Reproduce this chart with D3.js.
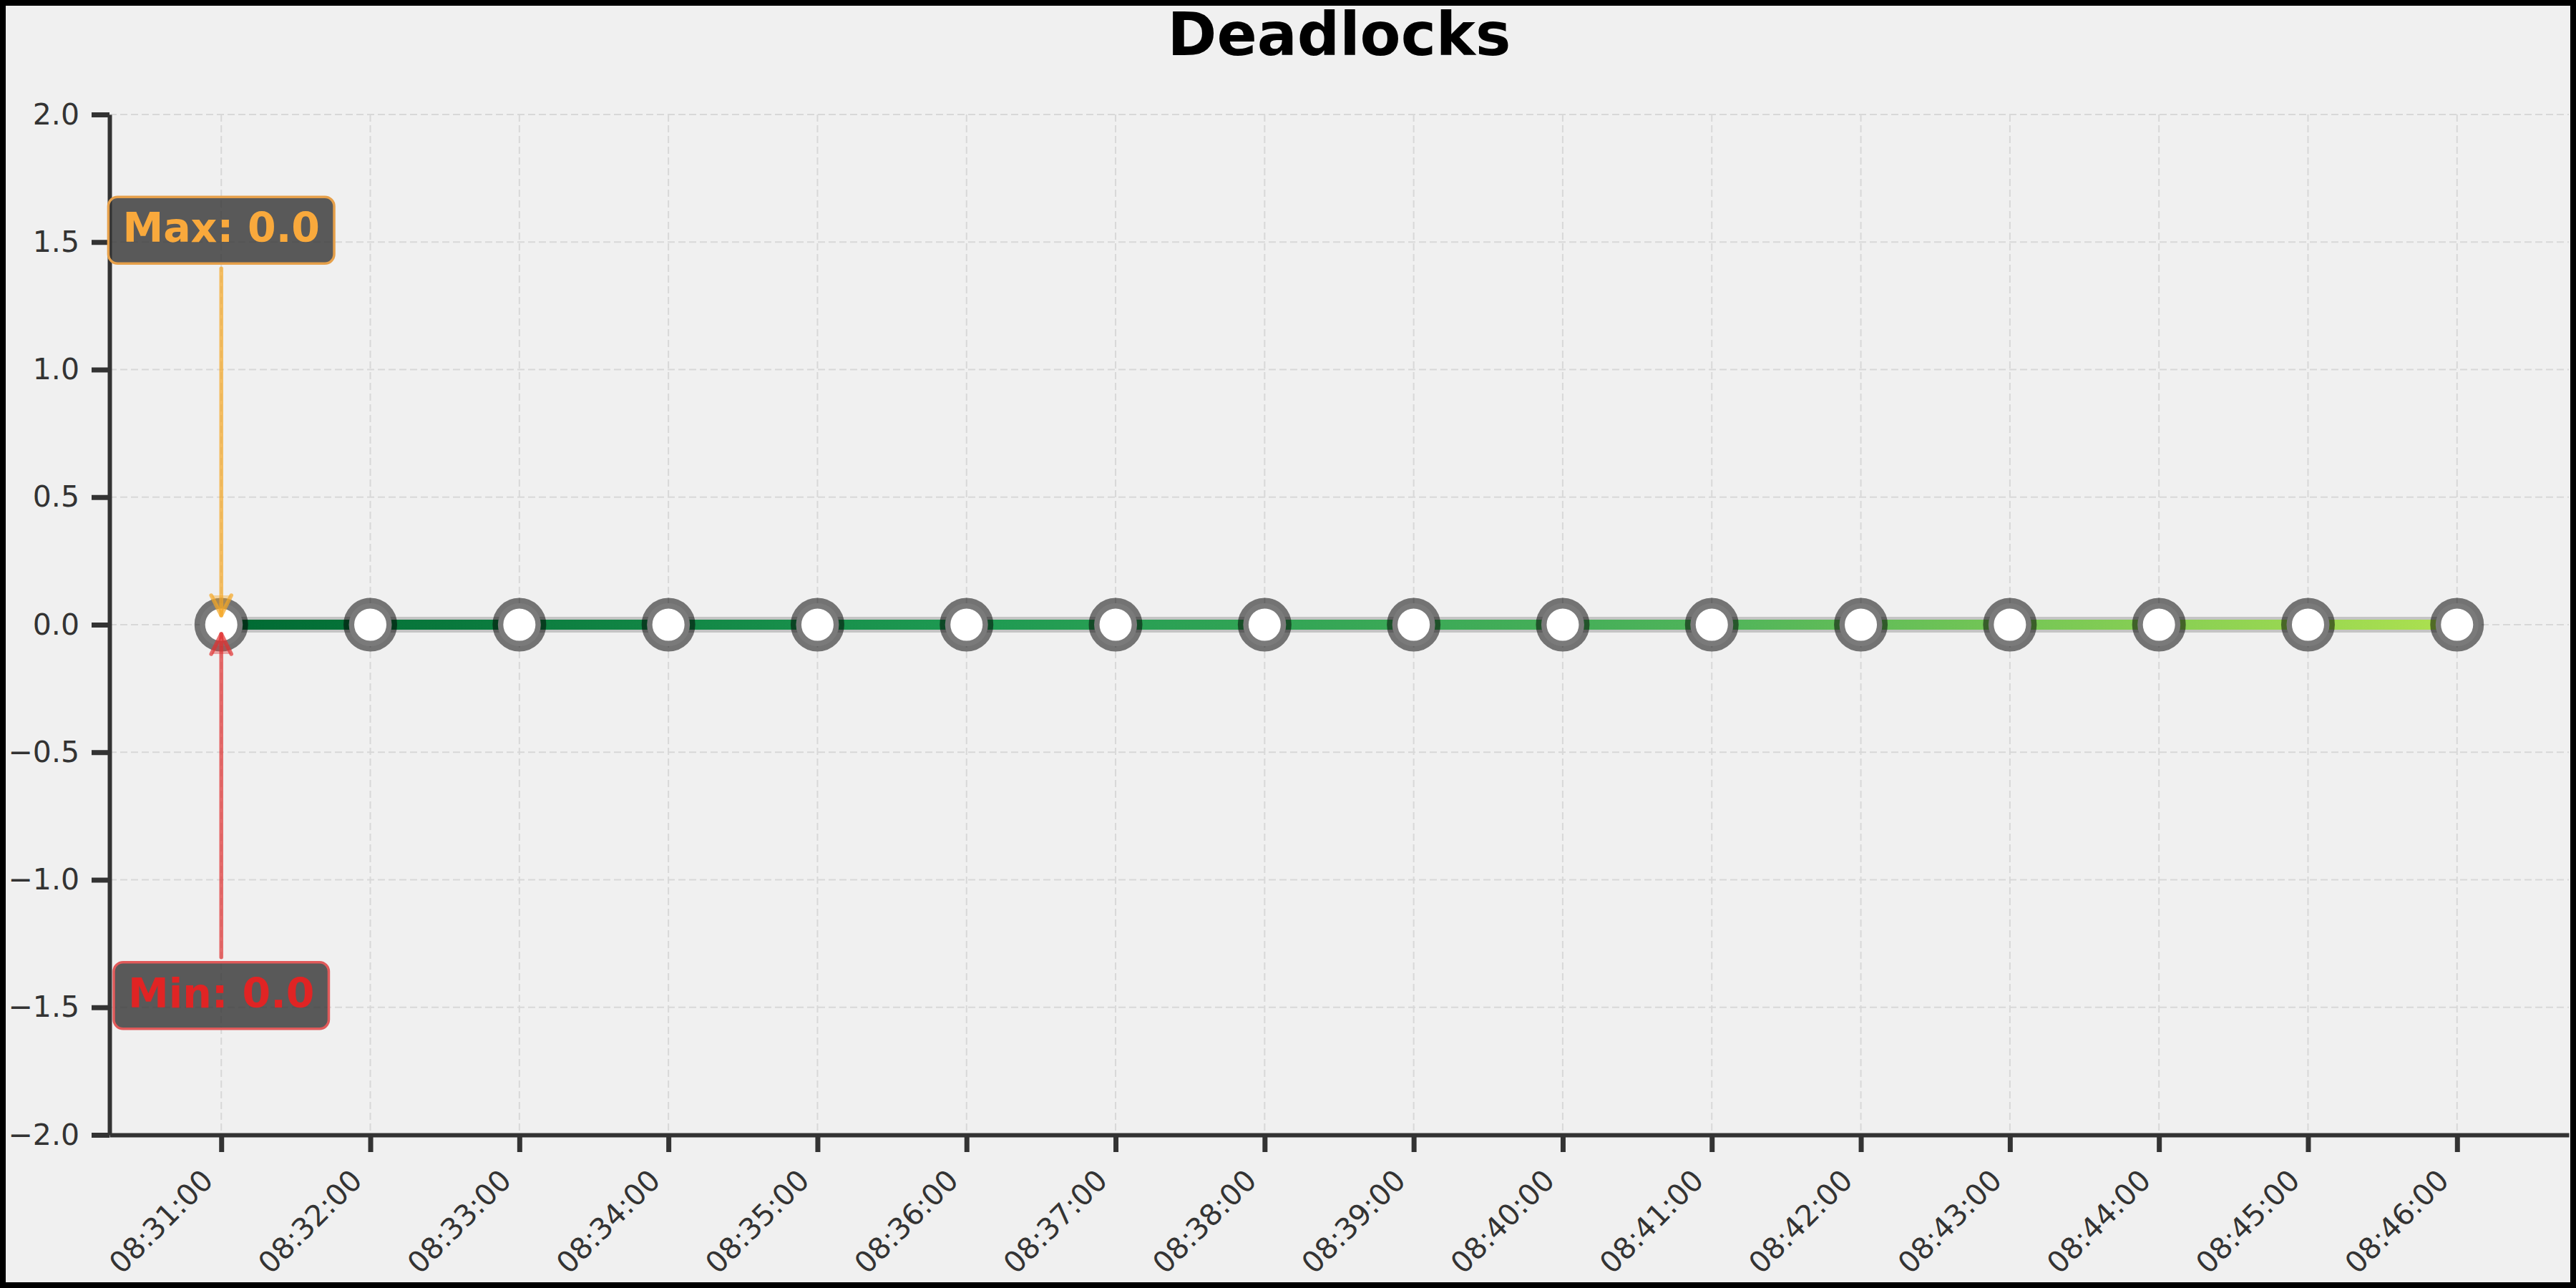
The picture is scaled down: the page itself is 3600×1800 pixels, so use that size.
<!DOCTYPE html>
<html>
<head>
<meta charset="utf-8">
<script src="https://cdn.jsdelivr.net/npm/d3@7"></script>
<style>
  html, body { margin: 0; padding: 0; background: #f0f0f0; }
  svg { display: block; }
  text { font-family: "DejaVu Sans", sans-serif; }
</style>
</head>
<body>
<svg id="chart" width="3600" height="1800"></svg>
<script>
// ---- data ----
const title = "Deadlocks";
const timeLabels = ["08:31:00","08:32:00","08:33:00","08:34:00","08:35:00","08:36:00","08:37:00","08:38:00",
                    "08:39:00","08:40:00","08:41:00","08:42:00","08:43:00","08:44:00","08:45:00","08:46:00"];
const values = [0,0,0,0,0,0,0,0,0,0,0,0,0,0,0,0];
const yTicks = [-2.0,-1.5,-1.0,-0.5,0.0,0.5,1.0,1.5,2.0];
const lineColorStops = ["#006a33", "#1e9a52", "#4fb45a", "#ade14f"];

// ---- setup ----
const W = 3600, H = 1800;
const svg = d3.select("#chart");
const parse = d3.timeParse("%Y-%m-%d %H:%M:%S");
const times = timeLabels.map(t => parse("2024-01-01 " + t));
const data = times.map((t, i) => ({t, v: values[i]}));

const mLeft = 153, mRight = 3590, mTop = 160, mBottom = 1586;
const pad = 45 * 1000; // 0.75 min padding
const x = d3.scaleTime()
  .domain([new Date(+times[0] - pad), new Date(+times[times.length - 1] + pad)])
  .range([mLeft, mRight]);
const y = d3.scaleLinear().domain([-2, 2]).range([mBottom, mTop]);

// background + border
svg.append("rect").attr("x", 4).attr("y", 4).attr("width", W - 8).attr("height", H - 8)
  .attr("fill", "#f0f0f0").attr("stroke", "#000").attr("stroke-width", 8);

// title
svg.append("text").attr("x", (mLeft + mRight) / 2).attr("y", 77)
  .attr("text-anchor", "middle").attr("font-size", 83).attr("font-weight", "bold")
  .attr("fill", "#000").text(title);

// grid
const grid = svg.append("g").attr("stroke", "#d8d8d8").attr("stroke-width", 2)
  .attr("stroke-dasharray", "10,5");
grid.selectAll("line.v").data(times).join("line").attr("class", "v")
  .attr("x1", d => x(d)).attr("x2", d => x(d)).attr("y1", mTop).attr("y2", mBottom);
grid.selectAll("line.h").data(yTicks).join("line").attr("class", "h")
  .attr("x1", mLeft).attr("x2", mRight).attr("y1", d => y(d)).attr("y2", d => y(d));

// axes
const xAxis = d3.axisBottom(x).tickValues(times).tickFormat(d3.timeFormat("%H:%M:%S"))
  .tickSize(24).tickSizeOuter(0);
const gx = svg.append("g").attr("transform", `translate(0,${mBottom})`).call(xAxis);
gx.select(".domain").attr("stroke", "#333").attr("stroke-width", 6);
gx.selectAll(".tick line").attr("stroke", "#333").attr("stroke-width", 7);
gx.selectAll(".tick text").remove();
svg.append("g").selectAll("text").data(times).join("text")
  .attr("transform", d => `translate(${x(d) - 9},1652) rotate(-45)`)
  .attr("text-anchor", "end").attr("font-size", 41).attr("fill", "#333")
  .text(d => d3.timeFormat("%H:%M:%S")(d));

const yAxis = d3.axisLeft(y).tickValues(yTicks).tickFormat(d3.format(".1f"))
  .tickSize(25).tickPadding(17).tickSizeOuter(0);
const gy = svg.append("g").attr("transform", `translate(${mLeft},0)`).call(yAxis);
gy.select(".domain").attr("stroke", "#333").attr("stroke-width", 6);
gy.selectAll(".tick line").attr("stroke", "#333").attr("stroke-width", 7);
gy.selectAll(".tick text").attr("font-size", 41).attr("fill", "#333")
  .attr("font-family", "DejaVu Sans, sans-serif");

// line gradient
const defs = svg.append("defs");
const grad = defs.append("linearGradient").attr("id", "lineGrad")
  .attr("gradientUnits", "userSpaceOnUse")
  .attr("x1", x(times[0])).attr("x2", x(times[times.length - 1])).attr("y1", 0).attr("y2", 0);
lineColorStops.forEach((c, i) => grad.append("stop")
  .attr("offset", i / (lineColorStops.length - 1)).attr("stop-color", c));

const line = d3.line().x(d => x(d.t)).y(d => y(d.v));
svg.append("path").datum(data).attr("d", line).attr("fill", "none")
  .attr("stroke", "#a0a0a0").attr("stroke-opacity", 0.55).attr("stroke-width", 22);
svg.append("path").datum(data).attr("d", line).attr("fill", "none")
  .attr("stroke", "url(#lineGrad)").attr("stroke-width", 14);

// markers
svg.append("g").selectAll("circle").data(data).join("circle")
  .attr("cx", d => x(d.t)).attr("cy", d => y(d.v)).attr("r", 30)
  .attr("fill", "#fff").attr("stroke", "#000").attr("stroke-opacity", 0.52).attr("stroke-width", 15);

// annotations
const maxV = d3.max(values), minV = d3.min(values);
const iMax = values.indexOf(maxV), iMin = values.indexOf(minV);
function annotate(i, v, labelY, txt, txtColor, edge, arrowColor, up) {
  const px = x(times[i]), py = y(v);
  const ty = y(labelY);
  const g = svg.append("g");
  const tip = up ? py + 13 : py - 13;
  const start = up ? ty - 70 : ty + 37;
  const hb = up ? tip + 28 : tip - 28;
  g.append("line").attr("x1", px).attr("x2", px).attr("y1", start).attr("y2", tip)
    .attr("stroke", arrowColor).attr("stroke-opacity", 0.7).attr("stroke-width", 5.5)
    .attr("stroke-linecap", "round");
  g.append("path").attr("d", `M${px - 14},${hb} L${px},${tip} L${px + 14},${hb}`)
    .attr("fill", arrowColor).attr("fill-opacity", 0.4)
    .attr("stroke", arrowColor).attr("stroke-opacity", 0.7).attr("stroke-width", 5.5)
    .attr("stroke-linecap", "round").attr("stroke-linejoin", "round");
  const box = g.append("rect");
  const t = g.append("text").attr("x", px).attr("y", ty).attr("text-anchor", "middle")
    .attr("font-size", 57).attr("font-weight", "bold").attr("fill", txtColor).text(txt);
  const w = t.node().getComputedTextLength();
  box.attr("x", px - w / 2 - 20).attr("y", ty - 63).attr("width", w + 40).attr("height", 93)
    .attr("rx", 13).attr("ry", 13)
    .attr("fill", "#333").attr("fill-opacity", 0.8)
    .attr("stroke", edge).attr("stroke-width", 3.5);
}
annotate(iMax, maxV, 1.5, `Max: ${d3.format(".1f")(maxV)}`, "#f9a93c", "#e6a04a", "#f5a623", false);
annotate(iMin, minV, -1.5, `Min: ${d3.format(".1f")(minV)}`, "#e02424", "#e05a5a", "#e03030", true);
</script>
</body>
</html>
